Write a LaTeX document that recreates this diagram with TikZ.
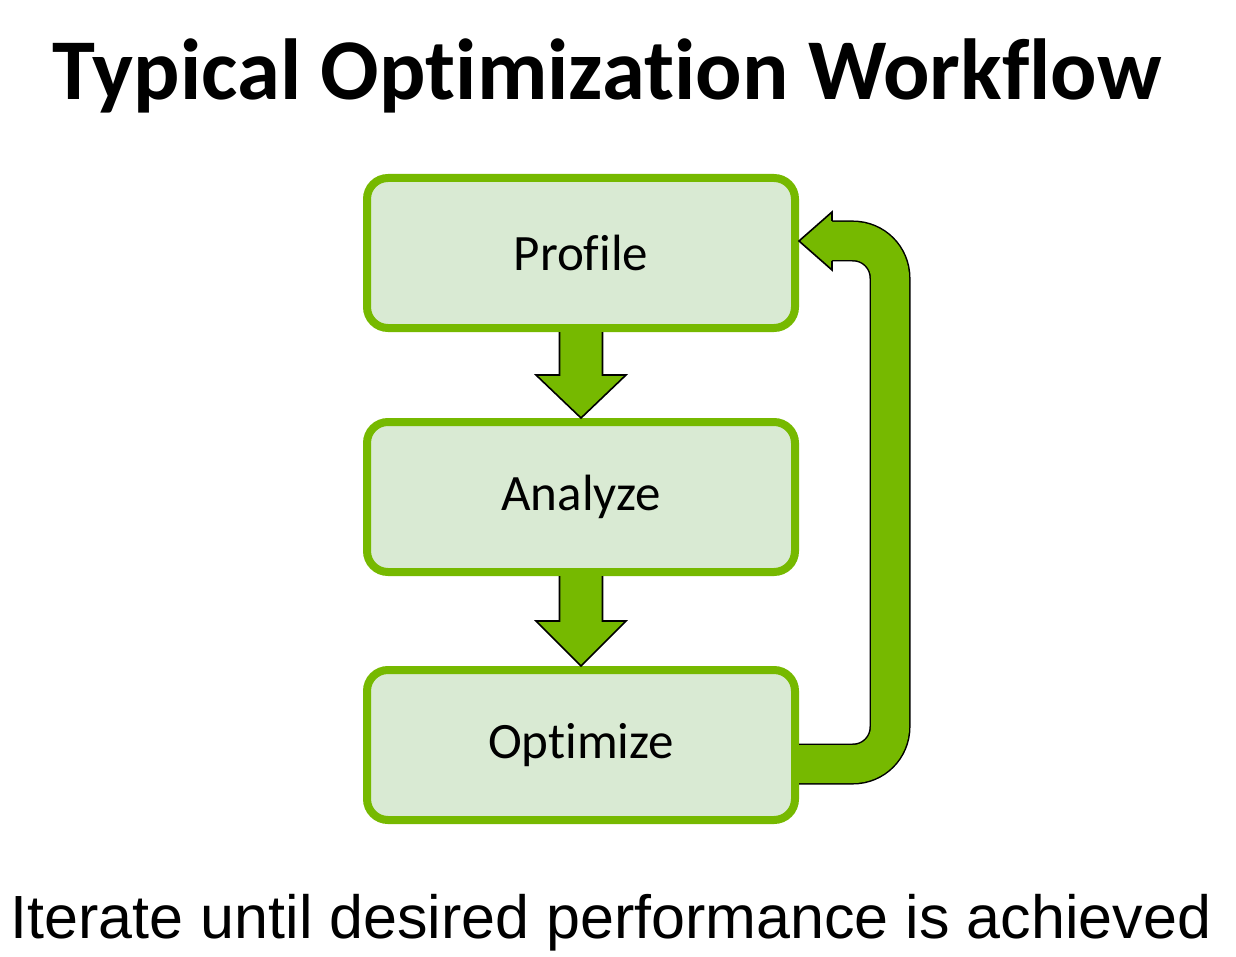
\documentclass[tikz,border=0pt]{standalone}
\usepackage{fontspec}
\setmainfont{Carlito}[Ligatures=CommonOff]
\newfontfamily\arialfont{Liberation Sans}
\usepackage{tikz}
\usetikzlibrary{calc}
\definecolor{nvgreen}{HTML}{76B900}
\definecolor{boxfill}{HTML}{D9EAD3}
\tikzstyle{heading}=[anchor=base,inner sep=0pt,font=\fontsize{43.3}{50}\selectfont\bfseries]
\tikzstyle{stage}=[
        rectangle,
        draw=nvgreen,
        line width=4pt,
        fill=boxfill,
        rounded corners=10.5pt,
        minimum width=214pt,
        minimum height=75pt,
        font=\fontsize{25.5}{30}\selectfont
]
\tikzstyle{note}=[anchor=base,inner sep=0pt,font=\arialfont\fontsize{30.5}{36}\selectfont]
\tikzstyle{block}=[fill=nvgreen,draw=black,line width=0.8pt,line join=miter]
\tikzstyle{loopband}=[draw=black,line width=0.75pt,double=nvgreen,double distance=19pt,rounded corners=18.5pt]

\begin{document}
\begin{tikzpicture}[x=0.5pt,y=-0.5pt]
\useasboundingbox (0,0) rectangle (1236,957);
\node[heading] (title) at (607,100) {Typical Optimization Workflow};
\node[stage] (prof) at (581,253) {Profile};
\node[stage] (anal) at (581,497) {Analyze};
\node[stage] (opt) at (581,745) {Optimize};
\node[note] (iter) at (611,938) {Iterate until desired performance is achieved};
%Block arrows between stages
\foreach \a/\b in {prof/anal,anal/opt}{
  \coordinate (m) at ($(\a.south)!0.5!(\b.north)$);
  \draw[block] ($(\a.south)+(-21.5,0)$) -- ($(m)+(-21.5,0)$) -- ($(m)+(-45,0)$)
    -- (\b.north) -- ($(m)+(45,0)$) -- ($(m)+(21.5,0)$) -- ($(\a.south)+(21.5,0)$);
}
%Loop back to profile
\coordinate (tip) at ($(prof.east)+(0,-12)$);
\draw[loopband] ($(opt.east)+(0,19)$) -- ++(91,0) |- ($(tip)+(33,0)$);
\draw[block] ($(tip)+(33,20)$) -- ($(tip)+(33,29)$) -- (tip) -- ($(tip)+(33,-29)$) -- ($(tip)+(33,-20)$);
\end{tikzpicture}
\end{document}
